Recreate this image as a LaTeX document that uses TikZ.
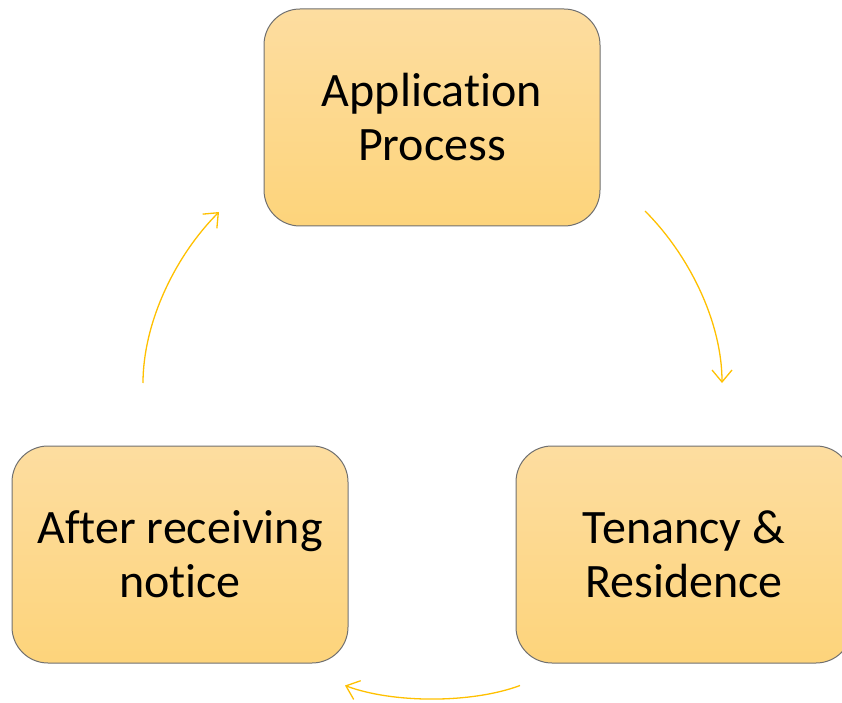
\documentclass[tikz,border=0pt]{standalone}
\usepackage{fontspec}
\setmainfont[Ligatures={NoCommon}]{Carlito}
\usetikzlibrary{arrows.meta}
\definecolor{boxtop}{HTML}{FDDDA0}
\definecolor{boxbot}{HTML}{FDD47B}
\definecolor{boxline}{HTML}{707070}
\definecolor{arrowgold}{HTML}{FFC000}
\begin{document}
\begin{tikzpicture}[x=1pt,y=1pt,
  stagebox/.style={draw=boxline, line width=1pt, rounded corners=36pt,
    top color=boxtop, bottom color=boxbot,
    minimum width=336pt, minimum height=217pt, inner sep=0pt,
    align=center, font=\fontsize{48}{54}\selectfont},
  cyclearrow/.style={draw=arrowgold, line width=1.3pt,
    -{Straight Barb[length=12pt,width=20pt,line width=1.3pt]}}]
\useasboundingbox (0,0) rectangle (842,702);
\node[stagebox] (app) at (432,584.5) {Application\\Process};
\node[stagebox] (ten) at (684,147.5) {Tenancy \&\\Residence};
\node[stagebox] (aft) at (180,147.5) {After receiving\\notice};
\coordinate (a1s) at (645,491);
\coordinate (a1e) at (722,319);
\coordinate (a2s) at (520,16.5);
\coordinate (a2e) at (345,16.5);
\coordinate (a3s) at (143,319);
\coordinate (a3e) at (219,490);
\draw[cyclearrow] (a1s) .. controls (690,446) and (722,379) .. (a1e);
\draw[cyclearrow] (a2s) .. controls (472,-1.5) and (393,-1.5) .. (a2e);
\draw[cyclearrow] (a3s) .. controls (143,379) and (175,446) .. (a3e);
\end{tikzpicture}
\end{document}
